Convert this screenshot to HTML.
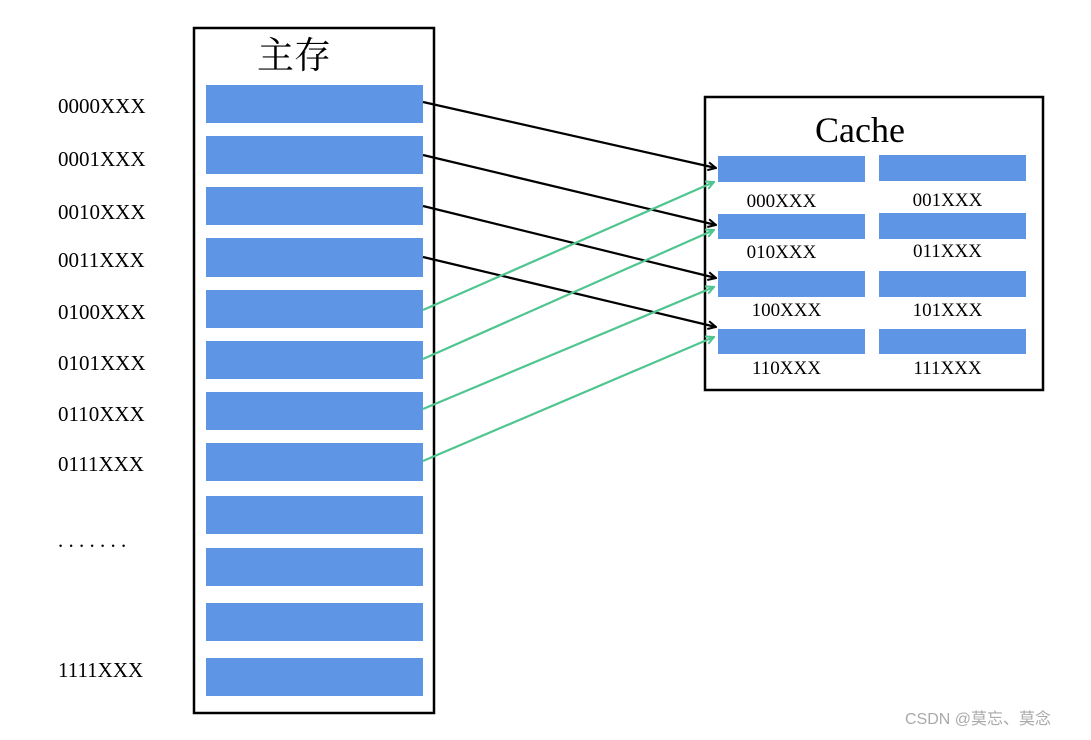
<!DOCTYPE html>
<html><head><meta charset="utf-8"><style>
body{margin:0;width:1091px;height:740px;background:#fff;position:relative;overflow:hidden;font-family:"Liberation Serif","Noto Serif CJK SC",serif;}
.t{position:absolute;font-size:21px;color:#000;white-space:nowrap;line-height:1}
.c{position:absolute;font-size:19px;color:#000;white-space:nowrap;line-height:1;text-align:center;width:147px}
</style></head><body>
<svg width="1091" height="740" style="position:absolute;left:0;top:0">
<defs>
<marker id="ab" markerWidth="10" markerHeight="10" refX="9" refY="5" orient="auto" markerUnits="userSpaceOnUse"><path d="M1,1 L9,5 L1,9" fill="none" stroke="#000" stroke-width="2"/></marker>
<marker id="ag" markerWidth="10" markerHeight="10" refX="9" refY="5" orient="auto" markerUnits="userSpaceOnUse"><path d="M1,1 L9,5 L1,9" fill="none" stroke="#4fc58f" stroke-width="2"/></marker>
</defs>
<rect x="194" y="28" width="240" height="685" fill="none" stroke="#000" stroke-width="2.5"/>
<g fill="#5f95e5">
<rect x="206" y="85" width="217" height="38"/><rect x="206" y="136" width="217" height="38"/>
<rect x="206" y="187" width="217" height="38"/><rect x="206" y="238" width="217" height="39"/>
<rect x="206" y="290" width="217" height="38"/><rect x="206" y="341" width="217" height="38"/>
<rect x="206" y="392" width="217" height="38"/><rect x="206" y="443" width="217" height="38"/>
<rect x="206" y="496" width="217" height="38"/><rect x="206" y="548" width="217" height="38"/>
<rect x="206" y="603" width="217" height="38"/><rect x="206" y="658" width="217" height="38"/>
<rect x="718" y="156" width="147" height="26"/><rect x="879" y="155" width="147" height="26"/>
<rect x="718" y="214" width="147" height="25"/><rect x="879" y="213" width="147" height="26"/>
<rect x="718" y="271" width="147" height="26"/><rect x="879" y="271" width="147" height="26"/>
<rect x="718" y="329" width="147" height="25"/><rect x="879" y="329" width="147" height="25"/>
</g>
<rect x="705" y="97" width="338" height="293" fill="none" stroke="#000" stroke-width="2.5"/>
<g stroke="#000" stroke-width="2.2" marker-end="url(#ab)">
<line x1="423" y1="102" x2="716" y2="168"/><line x1="423" y1="155" x2="716" y2="225"/>
<line x1="423" y1="206" x2="716" y2="278"/><line x1="423" y1="257" x2="716" y2="327"/>
</g>
<g stroke="#4fc58f" stroke-width="2.2" marker-end="url(#ag)">
<line x1="423" y1="310" x2="714" y2="182"/><line x1="423" y1="359" x2="714" y2="230"/>
<line x1="423" y1="409" x2="714" y2="287"/><line x1="423" y1="461" x2="714" y2="337"/>
</g>
</svg>
<div class="t" style="left:257px;top:38px;font-size:37px">主存</div>
<div class="t" style="left:815px;top:112px;font-size:36px">Cache</div>
<div class="t" style="left:58px;top:96px">0000XXX</div>
<div class="t" style="left:58px;top:149px">0001XXX</div>
<div class="t" style="left:58px;top:202px">0010XXX</div>
<div class="t" style="left:58px;top:250px">0011XXX</div>
<div class="t" style="left:58px;top:302px">0100XXX</div>
<div class="t" style="left:58px;top:353px">0101XXX</div>
<div class="t" style="left:58px;top:404px">0110XXX</div>
<div class="t" style="left:58px;top:454px">0111XXX</div>
<div class="t" style="left:58px;top:530px">. . . . . . .</div>
<div class="t" style="left:58px;top:660px">1111XXX</div>
<div class="c" style="left:708px;top:192px">000XXX</div>
<div class="c" style="left:874px;top:191px">001XXX</div>
<div class="c" style="left:708px;top:243px">010XXX</div>
<div class="c" style="left:874px;top:242px">011XXX</div>
<div class="c" style="left:713px;top:301px">100XXX</div>
<div class="c" style="left:874px;top:301px">101XXX</div>
<div class="c" style="left:713px;top:359px">110XXX</div>
<div class="c" style="left:874px;top:359px">111XXX</div>
<div class="t" style="left:905px;top:712px;font-size:16px;color:#aaa;font-family:'Liberation Sans','Noto Sans CJK SC',sans-serif">CSDN @莫忘、莫念</div>
</body></html>
